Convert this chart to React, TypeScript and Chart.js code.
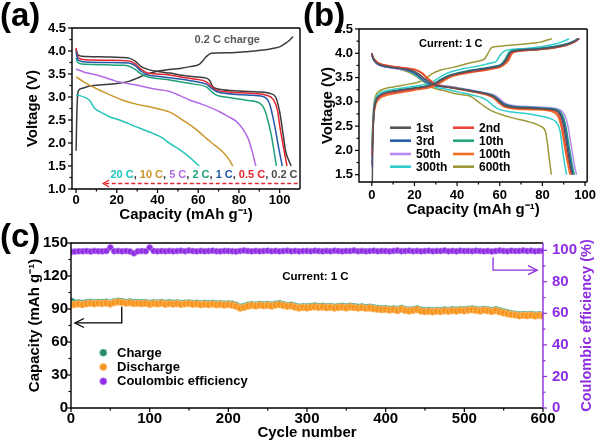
import { useEffect, useRef } from "react";
import { Chart, registerables } from "chart.js";
Chart.register(...registerables);

const FONT = "'Liberation Sans', Arial, Helvetica, sans-serif";
type P = [number, number];

// ---------- Panel (a): rate discharge curves (capacity mAh/g, voltage V) ----------
const aXTicks = [0, 20, 40, 60, 80, 100];
const aYTicks = [1.0, 1.5, 2.0, 2.5, 3.0, 3.5, 4.0, 4.5];

const a02C: P[] = [[0,4.05],[0.5,3.95],[1.5,3.9],[5,3.88],[15,3.87],[22,3.86],[26.3,3.84],[29,3.78],[32,3.66],[36,3.59],[41,3.55],[46,3.52],[51,3.48],[58,3.44],[64,3.41],[65.6,3.36],[67.2,3.22],[70.5,3.17],[80,3.13],[90,3.11],[95,3.08],[98,3.0],[100,2.68],[101.5,2.25],[103,1.81],[104.5,1.62],[105.7,1.5]];
const a05C: P[] = [[0,4.06],[0.5,3.92],[1.5,3.84],[5,3.81],[15,3.8],[26.3,3.78],[29,3.72],[32,3.6],[35,3.52],[40,3.5],[46,3.48],[51,3.44],[58,3.39],[64,3.33],[66.5,3.23],[68.9,3.15],[75,3.11],[85,3.08],[93.5,3.04],[97,2.94],[99,2.7],[100,2.39],[101.5,2.0],[103.6,1.5]];
const a1C: P[] = [[0,3.99],[0.5,3.86],[1.5,3.79],[5,3.76],[15,3.75],[26,3.74],[29,3.68],[32,3.56],[35,3.48],[40,3.45],[46,3.42],[51,3.39],[58,3.34],[64,3.28],[66.5,3.19],[69,3.12],[75,3.07],[85,3.04],[91.8,3.01],[95,2.86],[97.5,2.39],[99.5,1.9],[101.3,1.5]];
const a2C: P[] = [[0,3.85],[0.5,3.78],[1.5,3.73],[5,3.71],[15,3.7],[22,3.69],[26,3.67],[29,3.6],[32,3.5],[35,3.44],[40,3.4],[46,3.37],[51,3.33],[58,3.28],[64,3.22],[66.5,3.12],[68.9,3.04],[75,2.99],[83.6,2.93],[90,2.87],[92,2.78],[93.5,2.61],[95.9,2.17],[97.3,1.8],[98.4,1.5]];
const a5C: P[] = [[0,3.61],[4,3.54],[8,3.5],[13,3.44],[20,3.34],[29.6,3.26],[38,3.18],[46,3.12],[51,3.03],[56,2.93],[62,2.84],[66,2.77],[70.5,2.68],[75,2.57],[78.7,2.47],[82,2.3],[84.5,2.1],[86.3,1.85],[88.3,1.5]];
const a10C: P[] = [[0,3.44],[3,3.35],[6.6,3.26],[13,3.12],[23,2.93],[30,2.84],[37.7,2.77],[46,2.67],[50,2.57],[53,2.48],[57,2.36],[61,2.22],[64,2.1],[67,1.99],[72,1.81],[75,1.65],[77,1.5]];
const a20C: P[] = [[0,3.05],[5,2.98],[6.6,2.93],[9,2.76],[13,2.65],[17,2.56],[21.4,2.5],[29.6,2.35],[37.7,2.21],[42,2.12],[46,1.99],[51,1.85],[55,1.72],[58,1.6],[60.5,1.5]];
const a02Charge: P[] = [[0,1.83],[0.3,2.5],[0.7,3.0],[1.2,3.14],[3,3.19],[6.6,3.24],[14,3.27],[21,3.3],[26,3.34],[30,3.41],[34,3.48],[38,3.54],[46,3.6],[51,3.62],[56,3.66],[60.5,3.71],[62.5,3.8],[64,3.88],[66.4,3.95],[75,3.96],[85,3.99],[92,4.02],[97,4.06],[100,4.09],[103,4.17],[105,4.24],[106.5,4.31]];

const aSeries = [
  { pts: a20C, color: "#23c4b8" },
  { pts: a10C, color: "#c9962a" },
  { pts: a5C, color: "#b46ae6" },
  { pts: a2C, color: "#1fa17c" },
  { pts: a1C, color: "#2459a8" },
  { pts: a05C, color: "#e4242e" },
  { pts: a02C, color: "#3b3b3b" },
  { pts: a02Charge, color: "#3b3b3b" },
];
const aRateLabels: [string, string][] = [
  ["20 C", "#23c4b8"], [", ", "#333"], ["10 C", "#c9962a"], [", ", "#333"], ["5 C", "#b46ae6"], [", ", "#333"],
  ["2 C", "#1fa17c"], [", ", "#333"], ["1 C", "#2459a8"], [", ", "#333"], ["0.5 C", "#e4242e"], [", ", "#333"], ["0.2 C", "#4a4a4a"],
];

// ---------- Panel (b): cycling voltage profiles at 1 C ----------
const bXTicks = [0, 20, 40, 60, 80, 100];
const bYTicks = [1.5, 2.0, 2.5, 3.0, 3.5, 4.0, 4.5];

const bCh1: P[] = [[0.2,1.2],[0.5,2.2],[1,2.75],[2,3.02],[3.5,3.12],[6,3.18],[12,3.23],[20,3.28],[26,3.32],[30,3.38],[33,3.46],[37,3.54],[46,3.63],[52,3.67],[57,3.71],[61,3.76],[63,3.86],[65,4.01],[68,4.05],[77,4.08],[85,4.12],[91,4.17],[95,4.24],[97,4.3]];
const bCh2: P[] = [[0.1,1.9],[0.5,2.4],[1,2.78],[2,3.0],[3.5,3.09],[6,3.15],[12,3.2],[20,3.26],[26,3.3],[30,3.36],[33,3.44],[37,3.53],[46,3.61],[52,3.65],[57,3.69],[61,3.74],[63.5,3.85],[65.5,4.0],[68.5,4.04],[77,4.07],[85,4.11],[91,4.16],[95,4.23],[97.3,4.3]];
const bCh3: P[] = [[0.1,1.7],[0.5,2.35],[1,2.8],[2,3.03],[3.5,3.12],[6,3.18],[12,3.23],[20,3.28],[26,3.32],[30,3.39],[33,3.47],[37,3.55],[46,3.64],[52,3.68],[57,3.72],[61,3.77],[63,3.87],[65,4.02],[68,4.06],[77,4.09],[85,4.13],[91,4.18],[95,4.25],[96.8,4.3]];
const bCh10: P[] = [[0.1,2.05],[0.5,2.5],[1,2.85],[2,3.05],[3.5,3.13],[6,3.19],[12,3.24],[20,3.29],[26,3.33],[30,3.4],[33,3.48],[37,3.56],[46,3.65],[52,3.69],[57,3.73],[60.5,3.77],[62.5,3.88],[64.5,4.03],[67.5,4.07],[77,4.1],[85,4.14],[91,4.19],[95,4.26],[96.5,4.3]];
const bCh50: P[] = [[0.1,1.65],[0.5,2.4],[1,2.82],[2,3.04],[3.5,3.12],[6,3.18],[12,3.23],[20,3.28],[26,3.32],[30,3.39],[33,3.47],[37,3.55],[46,3.63],[52,3.67],[57,3.71],[61,3.76],[63,3.87],[65,4.02],[68,4.06],[77,4.09],[85,4.13],[91,4.17],[95,4.24],[97.5,4.3]];
const bCh100: P[] = [[0.1,1.9],[0.5,2.35],[1,2.72],[2,2.96],[3.5,3.06],[6,3.12],[12,3.18],[20,3.24],[26,3.28],[30,3.33],[33,3.41],[37,3.51],[46,3.6],[52,3.64],[57,3.68],[61,3.73],[64,3.84],[66,4.0],[69,4.04],[77,4.07],[85,4.11],[91,4.16],[95,4.23],[97.2,4.3]];
const bCh300: P[] = [[0.1,2.05],[0.5,2.55],[1,2.9],[2,3.08],[3.5,3.17],[6,3.22],[12,3.27],[20,3.32],[25,3.36],[28,3.4],[31,3.48],[34,3.56],[38,3.63],[44,3.69],[50,3.74],[56,3.8],[58.5,3.84],[60,3.95],[62,4.04],[64,4.07],[72,4.1],[80,4.14],[86,4.19],[90,4.25],[92.5,4.3]];
const bCh600: P[] = [[0.1,2.1],[0.5,2.6],[1,2.95],[2,3.14],[3.5,3.22],[6,3.27],[12,3.32],[18,3.37],[22,3.41],[25,3.47],[28,3.57],[32,3.65],[38,3.71],[45,3.79],[50,3.84],[53,3.89],[54.5,4.0],[56,4.11],[59,4.14],[66,4.17],[74,4.2],[79,4.23],[82,4.27],[84.4,4.3]];

const bDis1: P[] = [[0,4.0],[0.5,3.92],[1.5,3.84],[3,3.78],[6,3.74],[10,3.71],[15,3.68],[19,3.64],[22,3.57],[25,3.46],[28,3.38],[31,3.33],[36,3.3],[42,3.26],[48,3.21],[54,3.16],[57,3.11],[59.5,3.02],[62,2.93],[66,2.89],[75,2.87],[82,2.85],[86,2.83],[88.5,2.72],[90,2.5],[91.5,2.1],[93,1.7],[94,1.5]];
const bDis2: P[] = [[0,4.0],[0.5,3.93],[1.5,3.86],[3,3.8],[6,3.76],[10,3.73],[15,3.7],[20,3.66],[23,3.6],[26,3.48],[29,3.38],[32,3.33],[37,3.3],[43,3.25],[49,3.2],[54,3.15],[57,3.1],[59.5,3.0],[62,2.92],[66,2.88],[75,2.86],[82,2.84],[85.5,2.81],[88,2.7],[89.5,2.45],[91,2.05],[92.6,1.7],[93.6,1.5]];
const bDis3: P[] = [[0,3.98],[0.5,3.9],[1.5,3.83],[3,3.77],[6,3.73],[10,3.7],[15,3.67],[18,3.63],[21,3.56],[24,3.45],[27,3.37],[30,3.33],[36,3.3],[42,3.26],[48,3.22],[54,3.17],[57,3.12],[60,3.02],[62.5,2.94],[66,2.9],[75,2.88],[82,2.86],[86.5,2.83],[89,2.72],[90.5,2.5],[92,2.1],[93.5,1.7],[94.4,1.5]];
const bDis10: P[] = [[0,3.99],[0.5,3.91],[1.5,3.84],[3,3.78],[6,3.74],[10,3.71],[15,3.68],[19,3.64],[22,3.57],[25,3.47],[28,3.39],[31,3.34],[36,3.31],[42,3.27],[48,3.22],[54,3.17],[57.5,3.12],[60,3.03],[62.5,2.95],[66,2.91],[75,2.89],[82,2.87],[87,2.84],[89.5,2.73],[91,2.5],[92.5,2.1],[94,1.7],[95,1.5]];
const bDis50: P[] = [[0,3.97],[0.5,3.9],[1.5,3.82],[3,3.76],[6,3.72],[10,3.69],[15,3.66],[19,3.62],[22,3.55],[25,3.46],[28,3.39],[31,3.35],[36,3.32],[42,3.28],[48,3.23],[54,3.18],[58,3.13],[60.5,3.04],[63,2.96],[67,2.92],[75,2.9],[83,2.88],[88,2.84],[90.5,2.73],[92,2.5],[93.5,2.1],[95,1.7],[96,1.5]];
const bDis100: P[] = [[0,4.0],[0.5,3.93],[1.5,3.86],[3,3.8],[6,3.76],[10,3.73],[15,3.7],[20,3.67],[23.5,3.6],[26.5,3.48],[29.5,3.38],[32,3.33],[37,3.29],[43,3.24],[49,3.19],[54,3.14],[57,3.08],[59.5,2.98],[62,2.9],[66,2.86],[75,2.84],[82,2.82],[85,2.79],[87.5,2.68],[89,2.45],[90.5,2.05],[92,1.7],[92.9,1.5]];
const bDis300: P[] = [[0,3.98],[0.5,3.9],[1.5,3.83],[3,3.77],[6,3.73],[10,3.7],[15,3.67],[18,3.62],[21,3.54],[24,3.44],[27,3.36],[30,3.3],[35,3.26],[41,3.2],[47,3.14],[52,3.08],[55,3.0],[57.5,2.9],[60,2.84],[66,2.79],[74,2.75],[80,2.7],[84,2.65],[86.5,2.58],[88.3,2.4],[89.5,2.0],[90.5,1.7],[91.4,1.5]];
const bDis600: P[] = [[0,4.0],[0.5,3.92],[1.5,3.84],[3,3.78],[6,3.73],[10,3.7],[14,3.66],[18,3.6],[21,3.52],[24,3.42],[27,3.33],[30,3.27],[35,3.22],[40,3.16],[46,3.12],[50,3.0],[53,2.9],[56,2.82],[60,2.75],[66,2.67],[72,2.61],[76,2.56],[79,2.5],[81.5,2.38],[82.5,2.1],[83.3,1.8],[84.2,1.5]];

const bSeries = [
  { name: "1st", color: "#555555", ch: bCh1, dis: bDis1 },
  { name: "2nd", color: "#e8453c", ch: bCh2, dis: bDis2 },
  { name: "3rd", color: "#2b5ea8", ch: bCh3, dis: bDis3 },
  { name: "10th", color: "#27a57d", ch: bCh10, dis: bDis10 },
  { name: "50th", color: "#b98af0", ch: bCh50, dis: bDis50 },
  { name: "100th", color: "#f36d1e", ch: bCh100, dis: bDis100 },
  { name: "300th", color: "#30cccc", ch: bCh300, dis: bDis300 },
  { name: "600th", color: "#9c9a38", ch: bCh600, dis: bDis600 },
];

// ---------- Panel (c): long-term cycling at 1 C (every 5th cycle) ----------
const cXTicks = [0, 100, 200, 300, 400, 500, 600];
const cYTicks = [0, 30, 60, 90, 120, 150];
const cY2Ticks = [0, 20, 40, 60, 80, 100];
const cycleNumbers = [1, ...Array.from({ length: 120 }, (_, i) => (i + 1) * 5)];
const dischargeCap = [
  93.8, 94.2, 94.6, 94.0, 94.8, 95.2, 94.7, 95.3, 95.0, 95.4,
  94.6, 95.8, 96.4, 95.9, 95.3, 95.6, 94.9, 95.2, 94.8, 95.1,
  94.3, 95.0, 94.6, 95.2, 94.4, 94.9, 94.5, 94.8, 94.2, 94.7,
  94.9, 94.3, 94.6, 93.9, 94.4, 94.0, 94.5, 93.8, 94.2, 93.6,
  94.0, 93.5, 92.4, 90.8, 91.5, 92.6, 93.3, 92.8, 93.5, 93.0,
  93.4, 92.7, 93.6, 94.0, 93.2, 92.5, 92.8, 91.7, 90.9, 91.4,
  91.0, 91.6, 92.0, 91.4, 91.8, 91.2, 91.6, 90.9, 91.4, 91.7,
  91.0, 91.8, 91.3, 90.8, 91.2, 90.6, 90.9, 90.2, 89.8, 89.4,
  89.6, 89.0, 89.5, 88.6, 89.8, 88.7, 88.2, 88.8, 89.4, 88.1,
  87.6, 87.9, 87.4, 88.0, 87.7, 88.3, 87.9, 88.5, 88.1, 88.8,
  88.4, 89.0, 89.3, 88.7, 88.2, 88.9, 88.4, 87.8, 88.6, 87.4,
  86.6, 85.6, 85.0, 84.5, 83.8, 84.3, 83.9, 84.4, 83.7, 84.2,
  83.6,
];
const chargeCap = [
  96.8, 95.4, 95.6, 95.1, 95.7, 96.1, 95.6, 96.0, 95.9, 96.2,
  95.4, 96.5, 97.1, 96.7, 96.0, 96.4, 95.8, 95.9, 95.7, 95.8,
  95.1, 95.8, 95.4, 95.9, 95.2, 95.7, 95.3, 95.5, 95.0, 95.4,
  95.6, 95.1, 95.3, 94.7, 95.2, 94.8, 95.2, 94.6, 94.9, 94.4,
  94.7, 94.3, 93.2, 91.6, 92.3, 93.4, 94.0, 93.6, 94.2, 93.8,
  94.1, 93.5, 94.3, 94.8, 94.0, 93.2, 93.6, 92.5, 91.7, 92.1,
  91.8, 92.3, 92.8, 92.2, 92.5, 92.0, 92.3, 91.7, 92.1, 92.5,
  91.8, 92.5, 92.1, 91.6, 91.9, 91.4, 91.6, 91.0, 90.6, 90.2,
  90.4, 89.8, 90.2, 89.4, 90.6, 89.5, 89.0, 89.5, 90.2, 88.9,
  88.4, 88.7, 88.2, 88.7, 88.5, 89.1, 88.6, 89.3, 88.9, 89.5,
  89.2, 89.7, 90.1, 89.5, 89.0, 89.6, 89.2, 88.6, 89.3, 88.2,
  87.4, 86.4, 85.8, 85.2, 84.6, 85.0, 84.7, 85.1, 84.5, 84.9,
  84.3,
];
const coulombicEff = [
  99.0, 99.2, 99.4, 99.3, 99.5, 99.2, 99.6, 99.4, 99.3, 99.5,
  101.8, 99.4, 99.6, 99.3, 99.5, 99.2, 98.1, 99.3, 99.5, 99.4,
  101.7, 99.6, 99.3, 99.5, 99.4, 99.6, 99.3, 99.5, 99.7, 99.4,
  99.8, 99.5, 99.3, 99.6, 99.4, 99.5, 99.7, 99.4, 99.3, 99.6,
  99.5, 99.4, 99.2, 99.6, 99.8, 99.5, 99.3, 99.6, 99.4, 99.5,
  99.7, 99.4, 99.6, 99.3, 99.5, 99.7, 99.4, 99.6, 99.3, 99.5,
  99.6, 99.4, 99.7, 99.5, 99.3, 99.6, 99.4, 99.7, 99.5, 99.3,
  99.6, 99.5, 99.8, 99.4, 99.6, 99.3, 99.5, 99.7, 99.4, 99.6,
  99.5, 99.3, 99.6, 99.8, 99.4, 99.5, 99.7, 99.4, 99.6, 99.3,
  99.5, 99.7, 99.4, 99.6, 99.5, 99.8, 99.4, 99.6, 99.3, 99.7,
  99.5, 99.6, 99.4, 99.7, 99.5, 99.3, 99.6, 99.2, 99.5, 99.8,
  99.6, 99.4, 99.7, 99.5, 99.6, 99.8, 99.5, 99.7, 99.4, 99.6,
  99.7,
];
const CE_COLOR = "#8e2de2";

// ---------- helpers ----------
const toXY = (arr: P[]) => arr.map(([x, y]) => ({ x, y }));
const mids = (t: number[]) => t.slice(0, -1).map((v, i) => (v + t[i + 1]) / 2);
const font = (size: number) => ({ family: FONT, size, weight: "bold" as const });

type TickSpec = { id: string; side: "bottom" | "left" | "right"; major: number[]; color?: string };

function framePlugin(axes: TickSpec[], rightColor = "#000") {
  return {
    id: "frameTicks",
    afterDatasetsDraw(chart: any) {
      const { ctx, chartArea: a } = chart;
      ctx.save();
      ctx.lineWidth = 1.4;
      ctx.strokeStyle = "#000";
      ctx.beginPath();
      ctx.moveTo(a.right, a.top);
      ctx.lineTo(a.left, a.top);
      ctx.lineTo(a.left, a.bottom);
      ctx.lineTo(a.right, a.bottom);
      ctx.stroke();
      ctx.strokeStyle = rightColor;
      ctx.beginPath();
      ctx.moveTo(a.right, a.top);
      ctx.lineTo(a.right, a.bottom);
      ctx.stroke();
      ctx.lineWidth = 1.2;
      for (const ax of axes) {
        const s = chart.scales[ax.id];
        ctx.strokeStyle = ax.color ?? "#000";
        const sets: [number[], number][] = [[ax.major, 4], [mids(ax.major), 2.5]];
        for (const [vals, len] of sets) {
          for (const v of vals) {
            const p = s.getPixelForValue(v);
            ctx.beginPath();
            if (ax.side === "bottom") { ctx.moveTo(p, a.bottom); ctx.lineTo(p, a.bottom + len); }
            else if (ax.side === "left") { ctx.moveTo(a.left, p); ctx.lineTo(a.left - len, p); }
            else { ctx.moveTo(a.right, p); ctx.lineTo(a.right + len, p); }
            ctx.stroke();
          }
        }
      }
      ctx.restore();
    },
  };
}

function linScale(opts: {
  min: number; max: number; ticks: number[]; fmt: (v: number) => string; size: number;
  fit: number; pad: number; title?: string; titlePad?: any; color?: string; position?: string; horizontal?: boolean;
}) {
  return {
    type: "linear",
    position: opts.position,
    min: opts.min,
    max: opts.max,
    afterBuildTicks: (s: any) => { s.ticks = opts.ticks.map((v) => ({ value: v })); },
    afterFit: (s: any) => { if (opts.horizontal) s.height = opts.fit; else s.width = opts.fit; },
    grid: { display: false, drawTicks: false },
    border: { display: false },
    ticks: { font: font(opts.size), color: opts.color ?? "#000", padding: opts.pad, autoSkip: false, maxRotation: 0, callback: (v: any) => opts.fmt(Number(v)) },
    title: opts.title
      ? { display: true, text: opts.title, font: font(15), color: opts.color ?? "#000", padding: opts.titlePad }
      : { display: false },
  };
}

const baseOptions = (padding: any) => ({
  responsive: false,
  animation: false,
  events: [],
  layout: { padding },
  plugins: { legend: { display: false }, tooltip: { enabled: false } },
});

function arrowHead(ctx: CanvasRenderingContext2D, x: number, y: number, dir: 1 | -1, len: number, half: number) {
  ctx.beginPath();
  ctx.moveTo(x - dir * len, y - half);
  ctx.lineTo(x, y);
  ctx.lineTo(x - dir * len, y + half);
  ctx.stroke();
}

// ---------- chart configs ----------
function configA(): any {
  const annot = {
    id: "annotA",
    afterDraw(chart: any) {
      const { ctx } = chart;
      const x = chart.scales.x, y = chart.scales.y;
      ctx.save();
      ctx.font = `bold 11px ${FONT}`;
      ctx.textBaseline = "middle";
      ctx.textAlign = "left";
      ctx.fillStyle = "#5a5a5a";
      ctx.fillText("0.2 C charge", x.getPixelForValue(58.2), y.getPixelForValue(4.24));
      const total = aRateLabels.reduce((s, [t]) => s + ctx.measureText(t).width, 0);
      let px = x.getPixelForValue(108.8) - total;
      const py = y.getPixelForValue(1.3);
      for (const [t, c] of aRateLabels) { ctx.fillStyle = c; ctx.fillText(t, px, py); px += ctx.measureText(t).width; }
      const ay = y.getPixelForValue(1.12);
      const x0 = x.getPixelForValue(13.3), x1 = x.getPixelForValue(108.9);
      ctx.strokeStyle = "#e4242e";
      ctx.lineWidth = 1.6;
      ctx.setLineDash([4, 2.5]);
      ctx.beginPath(); ctx.moveTo(x1, ay); ctx.lineTo(x0, ay); ctx.stroke();
      ctx.setLineDash([]);
      ctx.lineWidth = 1.3;
      arrowHead(ctx, x0, ay, -1, 6, 3.5);
      ctx.restore();
    },
  };
  return {
    type: "line",
    data: {
      datasets: aSeries.map((s) => ({
        data: toXY(s.pts), borderColor: s.color, borderWidth: 1.5, pointRadius: 0,
        cubicInterpolationMode: "monotone", fill: false,
      })),
    },
    options: {
      ...baseOptions({ top: 28, right: 2, left: 0, bottom: 0 }),
      scales: {
        x: linScale({ min: -2, max: 110, ticks: aXTicks, fmt: (v) => String(v), size: 13, fit: 37, pad: 4, horizontal: true,
          title: "Capacity (mAh g\u207B\u00B9)", titlePad: { top: 0, bottom: 2 } }),
        y: linScale({ min: 1.0, max: 4.5, ticks: aYTicks, fmt: (v) => v.toFixed(1), size: 13, fit: 72, pad: 6,
          title: "Voltage (V)", titlePad: { top: 24, bottom: 0 } }),
      },
    },
    plugins: [framePlugin([{ id: "x", side: "bottom", major: aXTicks }, { id: "y", side: "left", major: aYTicks }]), annot],
  };
}

function configB(): any {
  const legend = {
    id: "legendB",
    afterDraw(chart: any) {
      const { ctx, chartArea: a } = chart;
      ctx.save();
      ctx.font = `bold 11px ${FONT}`;
      ctx.textBaseline = "middle";
      ctx.fillStyle = "#000";
      ctx.fillText("Current: 1 C", a.left + 60, a.top + 15);
      ctx.font = `bold 12px ${FONT}`;
      const rows = [98.7, 111.7, 125, 137.7];
      bSeries.forEach((s, i) => {
        const col = i % 2, row = Math.floor(i / 2);
        const lx = a.left + (col === 0 ? 31 : 94);
        const yy = a.top + rows[row];
        ctx.strokeStyle = s.color;
        ctx.lineWidth = 2.6;
        ctx.beginPath(); ctx.moveTo(lx, yy); ctx.lineTo(lx + 21, yy); ctx.stroke();
        ctx.fillStyle = "#000";
        ctx.fillText(s.name, lx + 26, yy + 0.5);
      });
      ctx.restore();
    },
  };
  const datasets: any[] = [];
  bSeries.forEach((s) => {
    for (const pts of [s.ch, s.dis]) {
      datasets.push({ data: toXY(pts), borderColor: s.color, borderWidth: 1.5, pointRadius: 0, cubicInterpolationMode: "monotone", fill: false });
    }
  });
  return {
    type: "line",
    data: { datasets },
    options: {
      ...baseOptions({ top: 29, right: 13, left: 0, bottom: 0 }),
      scales: {
        x: linScale({ min: -6, max: 101, ticks: bXTicks, fmt: (v) => String(v), size: 13, fit: 40, pad: 6, horizontal: true,
          title: "Capacity (mAh g\u207B\u00B9)", titlePad: { top: 0, bottom: 3 } }),
        y: linScale({ min: 1.35, max: 4.5, ticks: bYTicks, fmt: (v) => v.toFixed(1), size: 13, fit: 59, pad: 6,
          title: "Voltage (V)", titlePad: { top: 19, bottom: 0 } }),
      },
    },
    plugins: [framePlugin([{ id: "x", side: "bottom", major: bXTicks }, { id: "y", side: "left", major: bYTicks }]), legend],
  };
}

function configC(): any {
  const extras = {
    id: "extrasC",
    afterDraw(chart: any) {
      const { ctx, chartArea: a } = chart;
      const x = chart.scales.x, y = chart.scales.y, y2 = chart.scales.y2;
      ctx.save();
      // right-axis title, reading bottom to top
      ctx.font = `bold 14.5px ${FONT}`;
      ctx.fillStyle = CE_COLOR;
      ctx.textAlign = "center";
      ctx.textBaseline = "middle";
      ctx.translate(a.right + 44, (a.top + a.bottom) / 2);
      ctx.rotate(-Math.PI / 2);
      ctx.fillText("Coulombic efficiency (%)", 0, 0);
      ctx.restore();

      ctx.save();
      ctx.textBaseline = "middle";
      ctx.textAlign = "left";
      ctx.font = `bold 11.5px ${FONT}`;
      ctx.fillStyle = "#000";
      ctx.fillText("Current: 1 C", x.getPixelForValue(268.5), y.getPixelForValue(119.4));
      // legend
      ctx.font = `bold 13px ${FONT}`;
      const items: [string, string, string][] = [
        ["Charge", "#2a8a6e", "#7fc9ad"],
        ["Discharge", "#f7941d", "#ffc98a"],
        ["Coulombic efficiency", CE_COLOR, "#c99af5"],
      ];
      items.forEach(([t, c, e], i) => {
        const yy = a.top + 109.7 + i * 14.3;
        ctx.beginPath();
        ctx.arc(a.left + 32.3, yy, 3.6, 0, Math.PI * 2);
        ctx.fillStyle = c; ctx.fill();
        ctx.lineWidth = 0.8; ctx.strokeStyle = e; ctx.stroke();
        ctx.fillStyle = "#000";
        ctx.fillText(t, a.left + 46, yy + 0.5);
      });
      // arrows
      ctx.lineWidth = 1.3;
      ctx.strokeStyle = "#000";
      const lx = x.getPixelForValue(64.5), ly0 = y.getPixelForValue(92), ly1 = y.getPixelForValue(77.3);
      const lEnd = x.getPixelForValue(5);
      ctx.beginPath(); ctx.moveTo(lx, ly0); ctx.lineTo(lx, ly1); ctx.lineTo(lEnd, ly1); ctx.stroke();
      arrowHead(ctx, lEnd, ly1, -1, 9, 4.5);
      ctx.strokeStyle = CE_COLOR;
      const rx = x.getPixelForValue(536.5), ry0 = y2.getPixelForValue(95.6), ry1 = y2.getPixelForValue(87.4);
      const rEnd = x.getPixelForValue(592.5);
      ctx.beginPath(); ctx.moveTo(rx, ry0); ctx.lineTo(rx, ry1); ctx.lineTo(rEnd, ry1); ctx.stroke();
      arrowHead(ctx, rEnd, ry1, 1, 9, 4.5);
      ctx.restore();
    },
  };
  const pts = (vals: number[]) => vals.map((v, i) => ({ x: cycleNumbers[i], y: v }));
  const ds = (vals: number[], fill: string, edge: string, axis: string, order: number, r: number) => ({
    data: pts(vals), yAxisID: axis, showLine: false, pointRadius: r, pointBorderWidth: 0.7,
    pointBackgroundColor: fill, pointBorderColor: edge, borderColor: fill, backgroundColor: fill, order,
  });
  return {
    type: "line",
    data: {
      datasets: [
        ds(coulombicEff, CE_COLOR, "#b77cf0", "y2", 2, 3),
        ds(chargeCap, "#2a8a6e", "#6fbfa2", "y", 1, 3.4),
        ds(dischargeCap, "#f7941d", "#ffc47e", "y", 0, 3.4),
      ],
    },
    options: {
      ...baseOptions({ top: 21, right: 0, left: 0, bottom: 0 }),
      scales: {
        x: linScale({ min: 0, max: 600, ticks: cXTicks, fmt: (v) => String(v), size: 15, fit: 36, pad: 2, horizontal: true,
          title: "Cycle number", titlePad: { top: 0, bottom: 2 } }),
        y: linScale({ min: 0, max: 150, ticks: cYTicks, fmt: (v) => String(v), size: 15, fit: 71, pad: 3, position: "left",
          title: "Capacity (mAh g\u207B\u00B9)", titlePad: { top: 26, bottom: 0 } }),
        y2: linScale({ min: 0, max: 104.6, ticks: cY2Ticks, fmt: (v) => String(v), size: 15, fit: 57, pad: 9, position: "right", color: CE_COLOR }),
      },
    },
    plugins: [
      framePlugin([
        { id: "x", side: "bottom", major: cXTicks },
        { id: "y", side: "left", major: cYTicks },
        { id: "y2", side: "right", major: cY2Ticks, color: CE_COLOR },
      ], CE_COLOR),
      extras,
    ],
  };
}

function ChartCanvas({ make, left, top, width, height }: { make: () => any; left: number; top: number; width: number; height: number }) {
  const ref = useRef<HTMLCanvasElement>(null);
  useEffect(() => {
    const chart = new Chart(ref.current as HTMLCanvasElement, make());
    return () => chart.destroy();
  }, []);
  return <canvas ref={ref} width={width} height={height} style={{ position: "absolute", left, top, width, height }} />;
}

const letterStyle = (left: number, top: number): any => ({
  position: "absolute", left, top, font: `bold 33px ${FONT}`, lineHeight: "33px", color: "#000",
});

export default function App() {
  return (
    <div style={{ position: "absolute", left: 0, top: 0, width: 600, height: 444, background: "#fff", overflow: "hidden" }}>
      <ChartCanvas make={configA} left={0} top={0} width={302} height={226} />
      <ChartCanvas make={configB} left={300} top={0} width={302} height={222} />
      <ChartCanvas make={configC} left={0} top={222} width={600} height={222} />
      <div style={letterStyle(0, -2)}>(a)</div>
      <div style={letterStyle(303, -2)}>(b)</div>
      <div style={letterStyle(0, 219)}>(c)</div>
    </div>
  );
}
